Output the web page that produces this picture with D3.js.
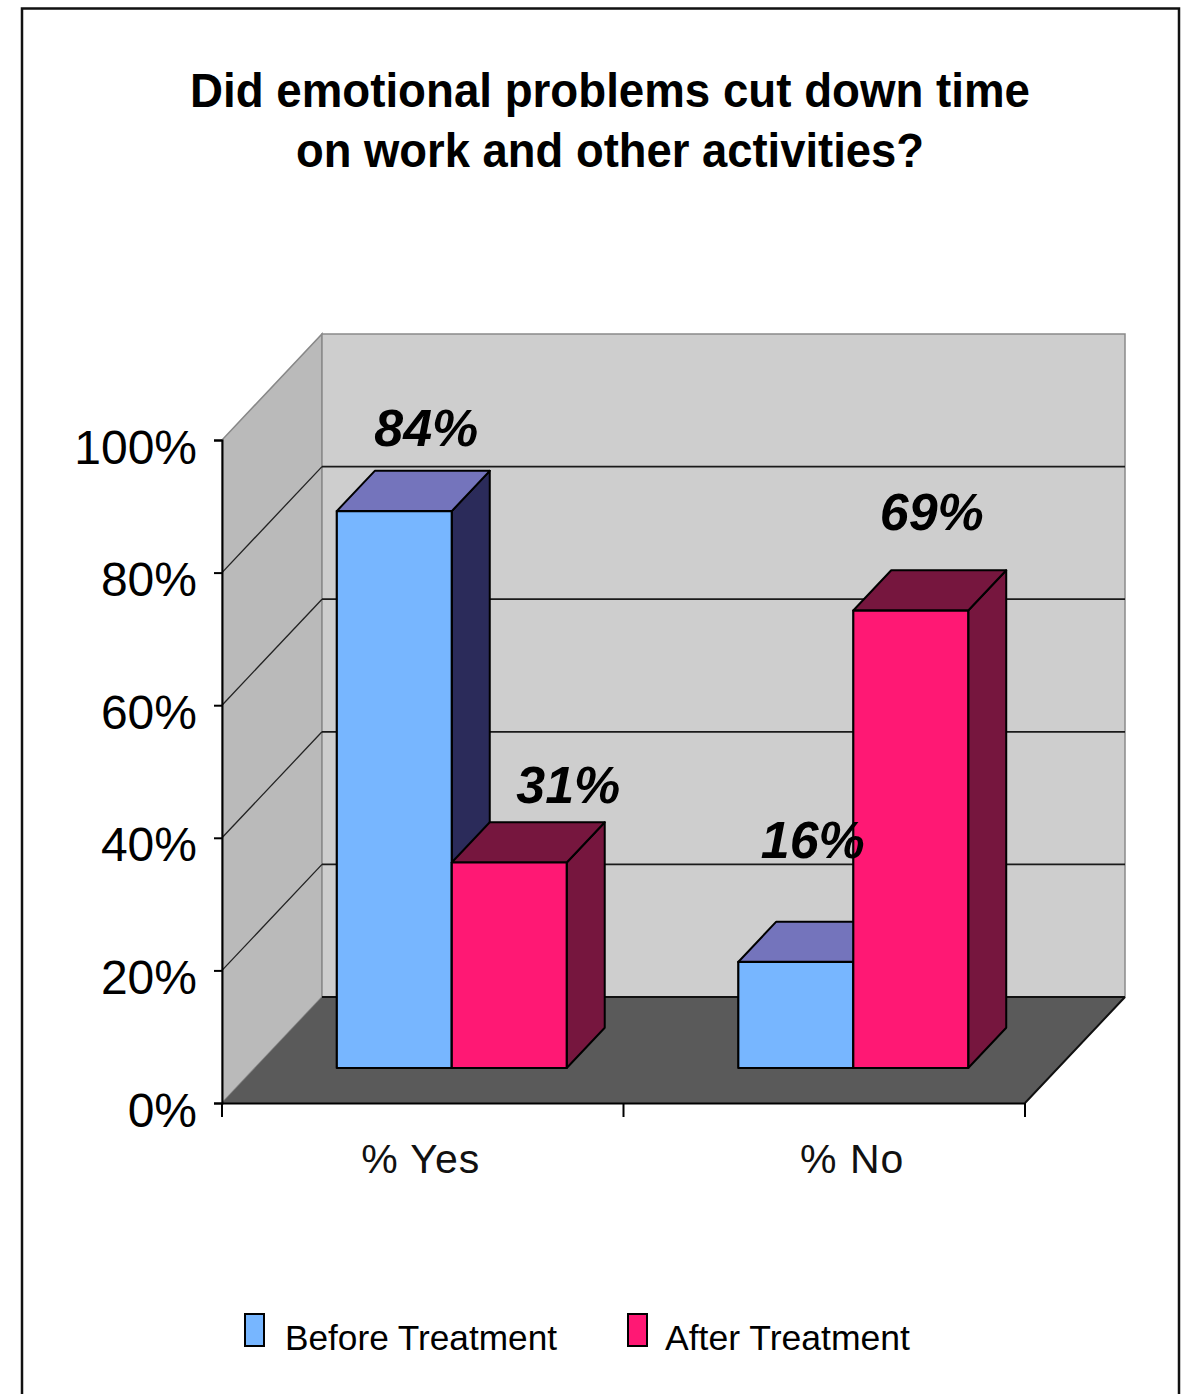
<!DOCTYPE html>
<html>
<head>
<meta charset="utf-8">
<script src="https://cdn.jsdelivr.net/npm/d3@7"></script>
<style>
  html, body { margin: 0; padding: 0; background: #fff; }
  svg { display: block; }
</style>
</head>
<body>
<script>
// ---------------- data ----------------
const categories = ["% Yes", "% No"];
const series = ["Before Treatment", "After Treatment"];
const beforeValues = [0.84, 0.16];
const afterValues = [0.31, 0.69];
const valueLabels = [["84%", "31%"], ["16%", "69%"]];
const yTicks = [0, 0.2, 0.4, 0.6, 0.8, 1.0];
const yTickLabels = ["0%", "20%", "40%", "60%", "80%", "100%"];
const titleLines = ["Did emotional problems cut down time", "on work and other activities?"];

// ---------------- layout ----------------
const W = 1187, H = 1394;
const font = "'Liberation Sans', Arial, Helvetica, sans-serif";
const DX = 100, DY = 106;          // full depth offset of the 3-D box
const dFront = 0.33, dBack = 0.71; // bar depth range
const colors = {
  front: ["#77b6ff", "#ff1874"],
  top: ["#7474bc", "#76163e"],
  side: ["#2b2b5a", "#76163e"]
};

const svg = d3.select("body").append("svg").attr("width", W).attr("height", H);

const y = d3.scaleLinear().domain([0, 1]).range([1103, 440]);
const x0 = d3.scaleBand().domain(categories).range([222, 1025]).padding(0);
const x1 = d3.scaleBand().domain(series)
  .range([-4, x0.bandwidth() - 4]).paddingInner(0).paddingOuter(0.746);

const P = (x, v, d) => [x + d * DX, y(v) - d * DY];
const poly = pts => "M" + pts.map(p => p.join(",")).join("L") + "Z";

// outer border
svg.append("path")
  .attr("d", `M22,${H + 5}L22,8.5L1179,8.5L1179,${H + 5}`)
  .attr("fill", "none").attr("stroke", "#111").attr("stroke-width", 2.5);

// title
const titleW = [840, 628];
svg.append("g").selectAll("text").data(titleLines).join("text")
  .attr("x", 610).attr("y", (d, i) => 107 + i * 60)
  .attr("text-anchor", "middle")
  .attr("font-family", font).attr("font-weight", "bold").attr("font-size", 48)
  .attr("textLength", (d, i) => titleW[i]).attr("lengthAdjust", "spacingAndGlyphs")
  .attr("fill", "#000")
  .text(d => d);

// ---------- walls ----------
const xL = 222, xR = 1025;
// side wall
svg.append("path")
  .attr("d", poly([P(xL, 0, 0), P(xL, 1, 0), P(xL, 1, 1), P(xL, 0, 1)]))
  .attr("fill", "#bababa").attr("stroke", "#888").attr("stroke-width", 1.5);
// back wall
svg.append("path")
  .attr("d", poly([P(xL, 0, 1), P(xL, 1, 1), P(xR, 1, 1), P(xR, 0, 1)]))
  .attr("fill", "#cecece").attr("stroke", "#8a8a8a").attr("stroke-width", 1.5);
// floor
svg.append("path")
  .attr("d", poly([P(xL, 0, 0), P(xL, 0, 1), P(xR, 0, 1), P(xR, 0, 0)]))
  .attr("fill", "#5a5a5a").attr("stroke", "none");
svg.append("path")
  .attr("d", poly([P(xL, 0, 1), P(xR, 0, 1)]).replace("Z", "") + "M" + P(xR, 0, 1).join(",") + "L" + P(xR, 0, 0).join(","))
  .attr("fill", "none").attr("stroke", "#111").attr("stroke-width", 2);

// gridlines (back wall + side wall diagonals)
const grid = svg.append("g");
yTicks.filter(t => t > 0 && t < 1).forEach(t => {
  grid.append("path")
    .attr("d", "M" + P(xL, t, 1).join(",") + "L" + P(xR, t, 1).join(","))
    .attr("stroke", "#1a1a1a").attr("stroke-width", 1.8).attr("fill", "none");
  grid.append("path")
    .attr("d", "M" + P(xL, t, 0).join(",") + "L" + P(xL, t, 1).join(","))
    .attr("stroke", "#222").attr("stroke-width", 1.3).attr("fill", "none");
});

// ---------- axes ----------
const yAxis = d3.axisLeft(y).tickValues(yTicks)
  .tickFormat((d, i) => yTickLabels[i]).tickSize(8).tickPadding(17);
const gy = svg.append("g").attr("transform", `translate(${xL},0)`).call(yAxis);
gy.select(".domain").attr("stroke", "#000").attr("stroke-width", 2);
gy.selectAll(".tick line").attr("stroke", "#000").attr("stroke-width", 2);
gy.selectAll(".tick text")
  .attr("font-family", font).attr("font-size", 48).attr("fill", "#000")
  .attr("dy", "0.48em");

const xAxis = d3.axisBottom(x0).tickSize(0).tickFormat("");
const gx = svg.append("g").attr("transform", `translate(0,${y(0)})`).call(xAxis);
gx.select(".domain").attr("stroke", "#000").attr("stroke-width", 2.2);
// category boundary ticks
const bounds = [xL, (xL + xR) / 2, xR];
gx.selectAll(".btick").data(bounds).join("line").attr("class", "btick")
  .attr("x1", d => d).attr("x2", d => d).attr("y1", 0).attr("y2", 14)
  .attr("stroke", "#000").attr("stroke-width", 2);
const catShift = [-2, 28];
svg.append("g").selectAll("text").data(categories).join("text")
  .attr("x", (d, i) => x0(d) + x0.bandwidth() / 2 + catShift[i])
  .attr("y", 1173)
  .attr("text-anchor", "middle")
  .attr("font-family", font).attr("font-size", 41).attr("fill", "#111")
  .attr("letter-spacing", 1)
  .text(d => d);

// ---------- bars ----------
const barsData = [];
categories.forEach((c, ci) => {
  [beforeValues[ci], afterValues[ci]].forEach((v, si) => {
    barsData.push({ c, ci, si, v, label: valueLabels[ci][si],
      xl: x0(c) + x1(series[si]), xr: x0(c) + x1(series[si]) + x1.bandwidth() });
  });
});
const gb = svg.append("g");
barsData.forEach(b => {
  const g = gb.append("g");
  g.append("path")
    .attr("d", poly([P(b.xr, 0, dFront), P(b.xr, b.v, dFront), P(b.xr, b.v, dBack), P(b.xr, 0, dBack)]))
    .attr("fill", colors.side[b.si]).attr("stroke", "#000").attr("stroke-width", 2).attr("stroke-linejoin", "round");
  g.append("path")
    .attr("d", poly([P(b.xl, b.v, dFront), P(b.xr, b.v, dFront), P(b.xr, b.v, dBack), P(b.xl, b.v, dBack)]))
    .attr("fill", colors.top[b.si]).attr("stroke", "#000").attr("stroke-width", 2).attr("stroke-linejoin", "round");
  g.append("path")
    .attr("d", poly([P(b.xl, 0, dFront), P(b.xl, b.v, dFront), P(b.xr, b.v, dFront), P(b.xr, 0, dFront)]))
    .attr("fill", colors.front[b.si]).attr("stroke", "#000").attr("stroke-width", 2.2).attr("stroke-linejoin", "round");
});

// value labels (nudges relative to bar's back-top centre)
const nudges = [[-6, 25], [21, 19], [-21, 64], [-17, 40]];
svg.append("g").selectAll("text").data(barsData).join("text")
  .attr("x", (b, i) => P((b.xl + b.xr) / 2, b.v, dBack)[0] + nudges[i][0])
  .attr("y", (b, i) => P((b.xl + b.xr) / 2, b.v, dBack)[1] - nudges[i][1])
  .attr("text-anchor", "middle")
  .attr("font-family", font).attr("font-weight", "bold").attr("font-style", "italic")
  .attr("font-size", 52).attr("fill", "#000")
  .attr("textLength", 104).attr("lengthAdjust", "spacingAndGlyphs")
  .text(b => b.label);

// ---------- legend ----------
const legX = [245, 628], legTextW = [272, 245];
const lg = svg.append("g").selectAll("g").data(series).join("g")
  .attr("transform", (d, i) => `translate(${legX[i]},1314)`);
lg.append("rect").attr("x", 0).attr("y", 0).attr("width", 19).attr("height", 32)
  .attr("fill", (d, i) => colors.front[i]).attr("stroke", "#000").attr("stroke-width", 2);
lg.append("text").attr("x", (d, i) => i === 0 ? 40 : 37).attr("y", 36)
  .attr("font-family", font).attr("font-size", 35).attr("fill", "#000")
  .attr("textLength", (d, i) => legTextW[i]).attr("lengthAdjust", "spacingAndGlyphs")
  .text(d => d);
</script>
</body>
</html>
